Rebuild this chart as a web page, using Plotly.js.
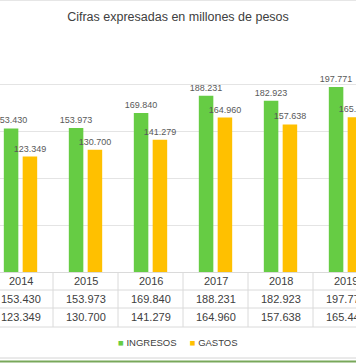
<!DOCTYPE html>
<html>
<head>
<meta charset="utf-8">
<script src="https://cdn.plot.ly/plotly-3.0.1.min.js"></script>
<style>html,body{margin:0;padding:0;background:#fff;}#chart{width:356px;height:364px;}</style>
</head>
<body>
<div id="chart"></div>
<script>
const years = ['2014', '2015', '2016', '2017', '2018', '2019'];
const ingresos = [153.430, 153.973, 169.840, 188.231, 182.923, 197.771];
const gastos = [123.349, 130.700, 141.279, 164.960, 157.638, 165.445];
const seriesNames = ['INGRESOS', 'GASTOS'];
const seriesColors = ['#66CC44', '#FFC000'];
const titleText = 'Cifras expresadas en millones de pesos';

const W = 356, H = 364;
const FONT = 'Liberation Sans, Arial, sans-serif';
const py = p => (H - p) / H;

const seriesValues = [ingresos, gastos];
const traces = seriesNames.map((name, k) => ({
  type: 'bar', name: name, x: years, y: seriesValues[k],
  marker: {color: seriesColors[k]},
  texttemplate: '%{y:.3f}', textposition: 'outside', textangle: 0,
  constraintext: 'none', cliponaxis: false,
  textfont: {family: FONT, size: 9, color: '#595959'},
  hoverinfo: 'skip'
}));

const annotations = [];
const rowY = [281, 299, 317];
const cellFont = {family: FONT, size: 11, color: '#404040'};
years.forEach((yr, i) => {
  // category axis: annotation x is the category's serial index
  annotations.push({x: i, xref: 'x', y: py(rowY[0]), yref: 'paper', text: yr, showarrow: false,
    yanchor: 'middle', xanchor: 'center', font: cellFont});
  seriesValues.forEach((vals, k) => {
    annotations.push({x: i, xref: 'x', y: py(rowY[k + 1]), yref: 'paper', text: vals[i].toFixed(3),
      showarrow: false, yanchor: 'middle', xanchor: 'center', font: cellFont});
  });
});
// legend built from the series names / colours
const legendText = seriesNames.map((n, k) =>
  `<span style="color:${seriesColors[k]}">■</span>\u00A0${n}`).join('\u00A0\u00A0\u00A0\u00A0\u00A0');
annotations.push({x: 0.5, xref: 'paper', y: py(342), yref: 'paper', text: legendText, showarrow: false,
  xanchor: 'center', yanchor: 'middle', font: {family: FONT, size: 9.5, color: '#404040'}});

const shapes = [];
const lineCol = '#DADADA';
[290, 308, 327].forEach(p => shapes.push({type: 'line', xref: 'paper', yref: 'paper', x0: 0, x1: 1,
  y0: py(p), y1: py(p), line: {color: lineCol, width: 1}}));
for (let i = 0; i < years.length - 1; i++) {
  shapes.push({type: 'line', xref: 'x', yref: 'paper', x0: i + 0.5, x1: i + 0.5,
    y0: py(272), y1: py(327), line: {color: lineCol, width: 1}});
}
shapes.push({type: 'line', xref: 'paper', yref: 'paper', x0: 0, x1: 1, y0: py(0.5), y1: py(0.5), line: {color: '#E6E6E6', width: 1}});
shapes.push({type: 'line', xref: 'paper', yref: 'paper', x0: 0, x1: 1, y0: py(358), y1: py(358), line: {color: '#D4D4D4', width: 1}});
shapes.push({type: 'line', xref: 'paper', yref: 'paper', x0: 0, x1: 1, y0: py(361.5), y1: py(361.5), line: {color: '#78A85A', width: 2}});

const r0 = -20.5 / 65;
const layout = {
  width: W, height: H,
  margin: {l: 0, r: 0, t: 0, b: 0, pad: 0},
  paper_bgcolor: '#fff', plot_bgcolor: '#fff',
  showlegend: false,
  barmode: 'group', bargap: 0.42, bargroupgap: 0.23,
  title: {text: titleText, x: 0.5, xanchor: 'center', y: py(17), yanchor: 'middle', yref: 'paper',
    font: {family: FONT, size: 12.5, color: '#404040'}},
  xaxis: {type: 'category', range: [r0, r0 + W / 65], showgrid: false, showticklabels: false, ticks: '',
    showline: true, linecolor: lineCol, linewidth: 1, zeroline: false, fixedrange: true},
  yaxis: {range: [0, 250], dtick: 50, domain: [py(272), py(38)], showticklabels: false, ticks: '',
    gridcolor: '#E4E4E4', gridwidth: 1, zeroline: false, showline: false, fixedrange: true},
  annotations: annotations,
  shapes: shapes
};
Plotly.newPlot('chart', traces, layout, {displayModeBar: false, staticPlot: true});
</script>
</body>
</html>
